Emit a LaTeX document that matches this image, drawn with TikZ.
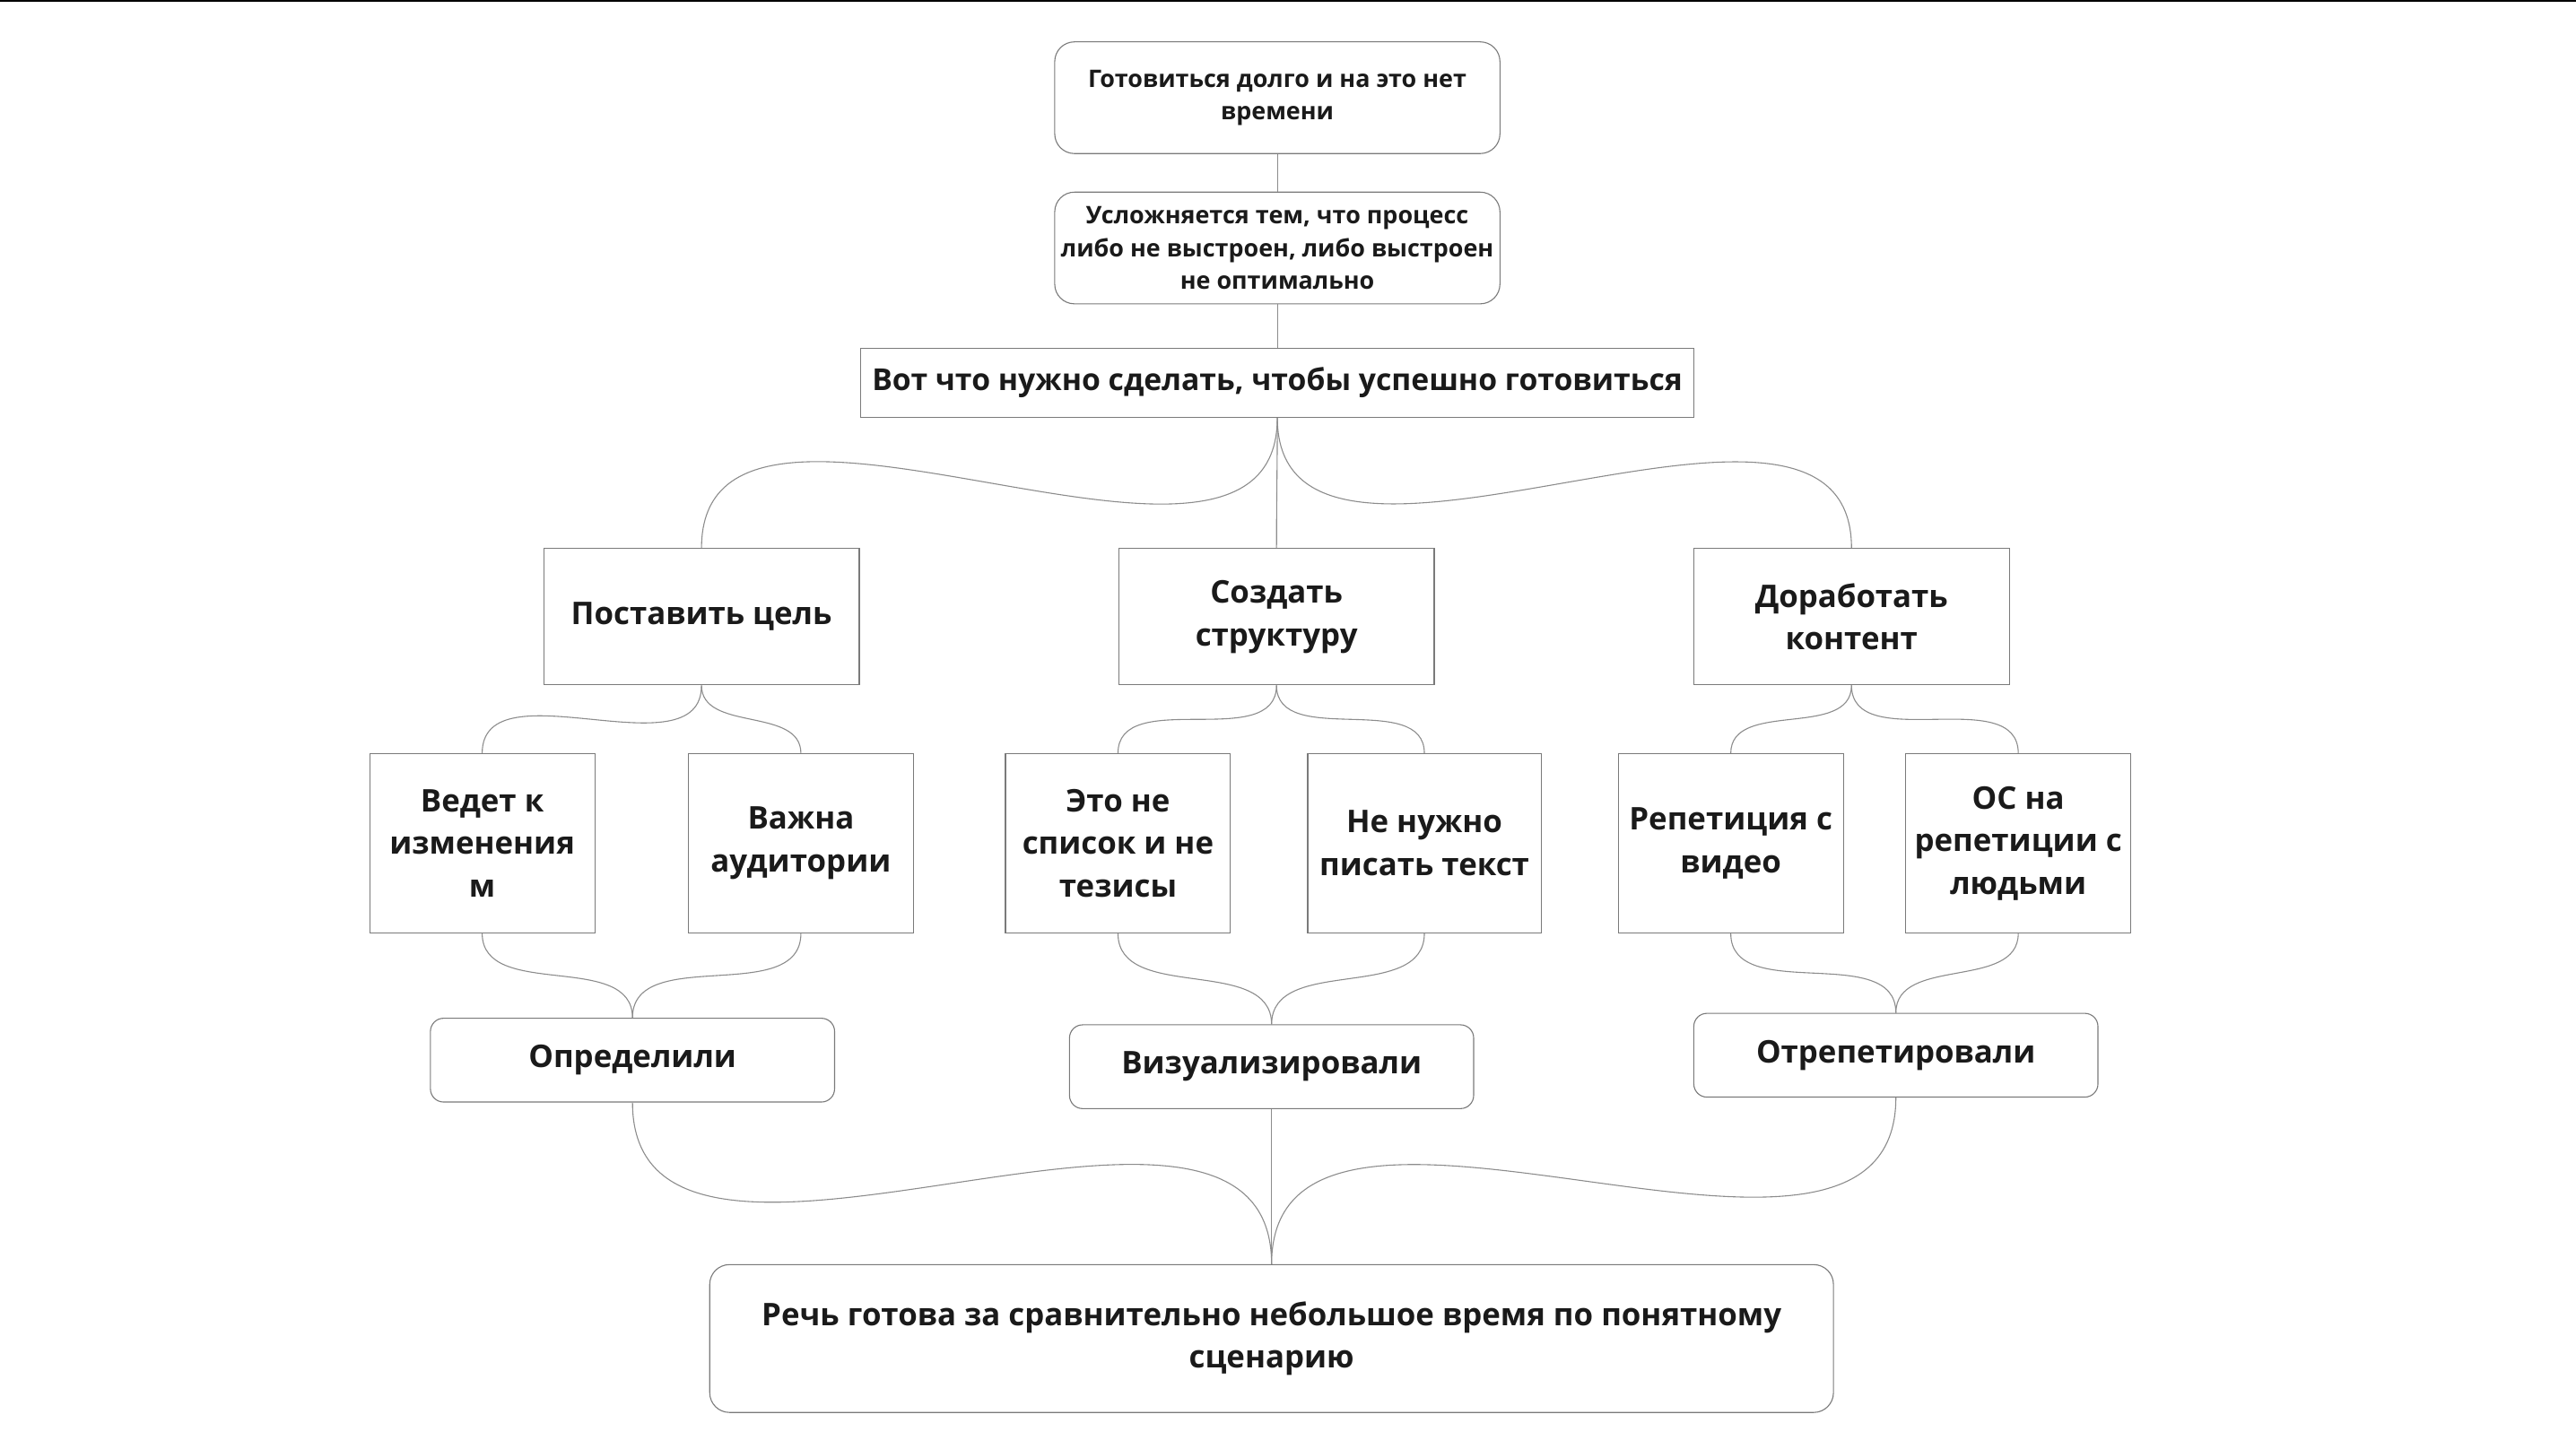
\documentclass[tikz,border=0pt]{standalone}
\usepackage{fontspec}
\setmainfont{Open Sans}
\definecolor{boxgray}{HTML}{7A7A7A}
\definecolor{linegray}{HTML}{8C8C8C}
\definecolor{txt}{HTML}{1A1A1A}

\begin{document}
\begin{tikzpicture}[x=1pt,y=1pt]
\useasboundingbox (0,0) rectangle (1568,-882);
\fill[black] (0,0) rectangle (1568,-1.2);

\begin{scope}[
    every node/.style={draw=boxgray,line width=0.6pt,fill=white,text=txt,align=center,inner sep=0pt,
        font=\bfseries\fontsize{19}{26}\selectfont},
    small/.style={rounded corners=12pt,minimum width=271pt,minimum height=68pt,
        font=\bfseries\fontsize{14.7}{20}\selectfont},
    goal/.style={minimum width=192pt,minimum height=83pt},
    leaf/.style={minimum width=137pt,minimum height=109pt},
    result/.style={rounded corners=8pt,minimum width=246pt,minimum height=51pt}]
    \node (1) at (777.5,-59.5) [small] {Готовиться долго и на это нет\\времени};
    \node (2) at (777.5,-151) [small] {Усложняется тем, что процесс\\либо не выстроен, либо выстроен\\не оптимально};
    \node (3) at (777.5,-233) [minimum width=507pt,minimum height=42pt,
        font=\bfseries\fontsize{18.4}{26}\selectfont] {Вот что нужно сделать, чтобы успешно готовиться};

    % % three steps
    \node (4) at (427,-375.5) [goal] {Поставить цель};
    \node (5) at (777,-375.5) [goal] {Создать\\структуру};
    \node (6) at (1127,-375.5) [goal] {Доработать\\контент};

    % % details
    \node (7) at (293.5,-513.5) [leaf] {Ведет к\\изменения\\м};
    \node (8) at (487.5,-513.5) [leaf] {Важна\\аудитории};
    \node (9) at (680.5,-513.5) [leaf] {Это не\\список и не\\тезисы};
    \node (10) at (867,-513.5) [leaf,minimum width=142pt] {Не нужно\\писать текст};
    \node (11) at (1053.5,-513.5) [leaf] {Репетиция с\\видео};
    \node (12) at (1228.5,-513.5) [leaf] {ОС на\\репетиции с\\людьми};

    % % results
    \node (13) at (385,-645.5) [result] {Определили};
    \node (14) at (774,-649.5) [result] {Визуализировали};
    \node (15) at (1154,-642.5) [result] {Отрепетировали};

    \node (16) at (774,-815) [rounded corners=12pt,minimum width=684pt,minimum height=90pt] {Речь готова за сравнительно небольшое время по понятному\\сценарию};
\end{scope}

\begin{scope}[every edge/.style={draw=linegray,line width=0.6pt}]
    \path (1) edge (2);
    \path (2) edge (3);

    \path (3.south) edge[out=-90,in=90] (4.north);
    \path (3.south) edge[out=-90,in=90] (5.north);
    \path (3.south) edge[out=-90,in=90] (6.north);

    \path (4.south) edge[out=-90,in=90] (7.north);
    \path (4.south) edge[out=-90,in=90] (8.north);
    \path (5.south) edge[out=-90,in=90] (9.north);
    \path (5.south) edge[out=-90,in=90] (10.north);
    \path (6.south) edge[out=-90,in=90] (11.north);
    \path (6.south) edge[out=-90,in=90] (12.north);

    \path (7.south) edge[out=-90,in=90] (13.north);
    \path (8.south) edge[out=-90,in=90] (13.north);
    \path (9.south) edge[out=-90,in=90] (14.north);
    \path (10.south) edge[out=-90,in=90] (14.north);
    \path (11.south) edge[out=-90,in=90] (15.north);
    \path (12.south) edge[out=-90,in=90] (15.north);

    \path (13.south) edge[out=-90,in=90] (16.north);
    \path (14.south) edge[out=-90,in=90] (16.north);
    \path (15.south) edge[out=-90,in=90] (16.north);
\end{scope}
\end{tikzpicture}
\end{document}
